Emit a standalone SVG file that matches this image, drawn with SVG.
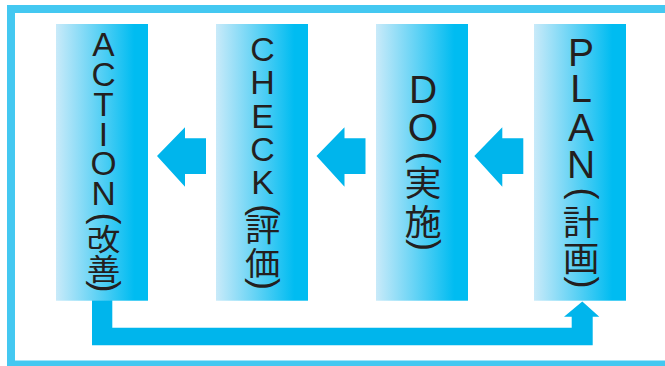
<svg xmlns="http://www.w3.org/2000/svg" width="665" height="366" viewBox="0 0 665 366">
<style>
.box{fill:url(#g)}
.lat{font-family:"Liberation Sans",Arial,sans-serif;fill:#231f20;text-anchor:middle}
.cjk{font-family:"Noto Sans CJK JP","Noto Sans CJK SC",sans-serif;fill:#231f20;text-anchor:middle}
.par{font-family:"Liberation Sans",Arial,sans-serif;fill:#231f20;text-anchor:middle;font-size:36px}
.arr{fill:#00b5ec}
</style>
<defs>
<linearGradient id="g" x1="0" y1="0" x2="1" y2="0">
<stop offset="0" stop-color="#c9eaf9"/>
<stop offset="0.85" stop-color="#00bcf1"/>
<stop offset="1" stop-color="#00bcf1"/>
</linearGradient>
</defs>
<rect x="11" y="9" width="680" height="355.5" fill="none" stroke="#44c8f1" stroke-width="8"/>
<g id="connectors">
<polygon class="arr" points="157,156 185,127.3 185,138.3 206,138.3 206,174 185,174 185,186.7"/>
<polygon class="arr" points="316.5,156 344.5,127.3 344.5,138.3 365.5,138.3 365.5,174 344.5,174 344.5,186.7"/>
<polygon class="arr" points="474.3,156 502.3,127.3 502.3,138.3 523.3,138.3 523.3,174 502.3,174 502.3,186.7"/>
<polygon class="arr" points="92,300 92,345.3 592.7,345.3 592.7,316.7 599.3,316.7 582.3,301.5 564,316.7 571.7,316.7 571.7,327.7 112.3,327.7 112.3,300"/>
</g>
<g id="action">
<rect class="box" x="56" y="24" width="92" height="276.7"/>
<g class="lat" font-size="33.5">
<text x="103.5" y="56">A</text><text x="103.5" y="86">C</text><text x="103.5" y="116">T</text><text x="103.5" y="146">I</text><text x="103.5" y="175">O</text><text x="103.5" y="205">N</text>
</g>
<text class="par" transform="translate(103.5,218.5) rotate(90)" y="9.3">(</text>
<g class="cjk" font-size="30">
<text transform="translate(103.5,250) scale(1.12,1)">改</text>
<text transform="translate(103.5,280) scale(1.12,1)">善</text>
</g>
<text class="par" transform="translate(103.5,286.5) rotate(90)" y="9.3">)</text>
</g>
<g id="check">
<rect class="box" x="216" y="24" width="92" height="276.7"/>
<g class="lat" font-size="34">
<text x="262.5" y="61">C</text><text x="262.5" y="94">H</text><text x="262.5" y="128">E</text><text x="262.5" y="161">C</text><text x="262.5" y="194">K</text>
</g>
<text class="par" transform="translate(262.5,210) rotate(90)" y="9.3">(</text>
<g class="cjk" font-size="32">
<text transform="translate(262.5,241) scale(1.1,1)">評</text>
<text transform="translate(262.5,274.5) scale(1.1,1)">価</text>
</g>
<text class="par" transform="translate(262.5,284) rotate(90)" y="9.3">)</text>
</g>
<g id="do">
<rect class="box" x="376" y="24" width="92" height="276.7"/>
<g class="lat" font-size="39">
<text x="423" y="103">D</text><text x="423" y="141">O</text>
</g>
<text class="par" transform="translate(423,157.5) rotate(90)" y="9.3">(</text>
<g class="cjk" font-size="35">
<text transform="translate(423,195.5) scale(1.06,1)">実</text>
<text transform="translate(423,234.5) scale(1.06,1)">施</text>
</g>
<text class="par" transform="translate(423,245) rotate(90)" y="9.3">)</text>
</g>
<g id="plan">
<rect class="box" x="534" y="24" width="92" height="276.7"/>
<g class="lat" font-size="39">
<text x="581" y="65.5">P</text><text x="581" y="102">L</text><text x="581" y="140.5">A</text><text x="581" y="178">N</text>
</g>
<text class="par" transform="translate(581,193.5) rotate(90)" y="9.3">(</text>
<g class="cjk" font-size="34">
<text transform="translate(581,234.5) scale(1.08,1)">計</text>
<text transform="translate(581,270.5) scale(1.08,1)">画</text>
</g>
<text class="par" transform="translate(581,282.5) rotate(90)" y="9.3">)</text>
</g>
</svg>
